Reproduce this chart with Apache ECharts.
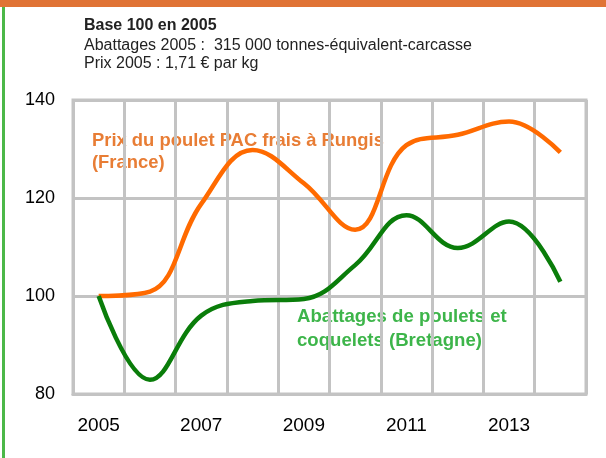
<!DOCTYPE html>
<html>
<head>
<meta charset="utf-8">
<script src="https://cdn.jsdelivr.net/npm/echarts@6/dist/echarts.min.js"></script>
<style>
  html, body { margin: 0; padding: 0; background: #fff; }
  #chart { width: 606px; height: 458px; }
</style>
</head>
<body>
<div id="chart"></div>
<script>
// Base 100 en 2005
const years = ['2005', '2006', '2007', '2008', '2009', '2010', '2011', '2012', '2013', '2014'];
const prixPoulet = [100, 100.9, 118.8, 129.8, 123, 113.5, 130.8, 132.9, 135.6, 129.3];
const abattages = [100, 82.9, 96, 99, 99.4, 106.3, 116.5, 109.8, 115.2, 102.9];
const yTicks = { min: 80, max: 140, interval: 20 };

const gridGris = '#c3c3c3';
const police = 'Liberation Sans, Arial, sans-serif';

const chartDom = document.getElementById('chart');
const myChart = echarts.init(chartDom);

const option = {
    animation: false,
    backgroundColor: '#fff',
    grid: {
        left: 73,
        top: 100,
        width: 513,
        height: 294,
        show: true,
        borderColor: gridGris,
        borderWidth: 3
    },
    xAxis: {
        type: 'category',
        data: years,
        boundaryGap: true,
        axisLine: { lineStyle: { color: gridGris, width: 3 } },
        axisTick: { show: false },
        splitLine: { show: true, interval: 0, lineStyle: { color: gridGris, width: 3 } },
        axisLabel: {
            interval: 1,
            margin: 22,
            color: '#000',
            fontSize: 19,
            fontFamily: police
        }
    },
    yAxis: {
        type: 'value',
        min: yTicks.min,
        max: yTicks.max,
        interval: yTicks.interval,
        axisLine: { show: false },
        axisTick: { show: false },
        splitLine: { lineStyle: { color: gridGris, width: 3 } },
        axisLabel: {
            margin: 18,
            color: '#000',
            fontSize: 18,
            fontFamily: police
        }
    },
    series: [
        {
            name: 'Prix du poulet PAC frais à Rungis (France)',
            type: 'line',
            data: prixPoulet,
            smooth: 0.4,
            symbol: 'none',
            lineStyle: { color: '#ff6a00', width: 4.5 },
            z: 3
        },
        {
            name: 'Abattages de poulets et coquelets (Bretagne)',
            type: 'line',
            data: abattages,
            smooth: 0.4,
            symbol: 'none',
            lineStyle: { color: '#0a7d0a', width: 4.5 },
            z: 4
        }
    ],
    graphic: [
        // bandeau orange du haut
        { type: 'rect', left: 0, top: 0, shape: { width: 606, height: 7 }, style: { fill: '#e07335' } },
        // filet vert à gauche
        { type: 'rect', left: 2, top: 7, shape: { width: 3, height: 451 }, style: { fill: '#4cb848' } },
        {
            type: 'text', left: 84, top: 18,
            style: { text: 'Base 100 en 2005', font: 'bold 16px ' + police, fill: '#222' }
        },
        {
            type: 'text', left: 84, top: 38,
            style: { text: 'Abattages 2005 :  315 000 tonnes-équivalent-carcasse', font: '16px ' + police, fill: '#222' }
        },
        {
            type: 'text', left: 84, top: 56,
            style: { text: 'Prix 2005 : 1,71 € par kg', font: '16px ' + police, fill: '#222' }
        },
        {
            type: 'text', left: 92, top: 130,
            style: {
                text: 'Prix du poulet PAC frais à Rungis\n(France)',
                font: 'bold 18.4px ' + police, fill: '#e87d35', lineHeight: 22
            }
        },
        {
            type: 'text', left: 297, top: 305,
            style: {
                text: 'Abattages de poulets et\ncoquelets (Bretagne)',
                font: 'bold 18.6px ' + police, fill: '#3db54a', lineHeight: 24
            }
        }
    ]
};

myChart.setOption(option);
</script>
</body>
</html>
